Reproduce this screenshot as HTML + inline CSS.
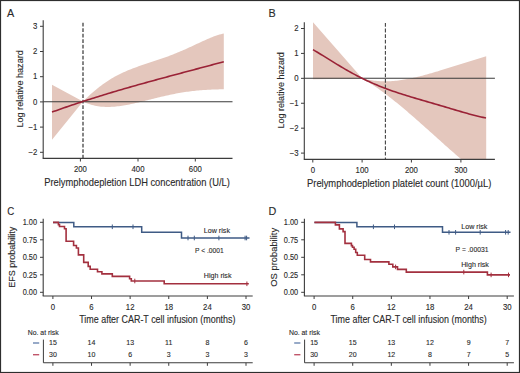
<!DOCTYPE html>
<html><head><meta charset="utf-8"><style>
html,body{margin:0;padding:0;background:#fff;}
svg{display:block;}
text{font-family:"Liberation Sans", sans-serif;stroke:#2a2a2a;stroke-width:0.12px;}
</style></head><body>
<svg width="520" height="373" viewBox="0 0 520 373">
<rect width="520" height="373" fill="#fff"/>
<rect x="0.5" y="0.5" width="519" height="372" fill="none" stroke="#2e2e2e" stroke-width="1.2"/>
<text x="7.0" y="16.9" font-size="10.8" fill="#2a2a2a">A</text>
<text x="268.6" y="16.9" font-size="10.8" fill="#2a2a2a">B</text>
<text transform="translate(7.3,215) scale(0.9000,1)" font-size="10.8" fill="#2a2a2a">C</text>
<text x="268.6" y="214.8" font-size="10.8" fill="#2a2a2a">D</text>
<path d="M52,84.8 L83.00,101.60 L84.50,100.08 L86.00,98.60 L87.50,97.14 L89.00,95.73 L90.50,94.34 L92.00,92.99 L93.50,91.68 L95.00,90.40 L96.50,89.16 L98.00,87.95 L99.50,86.78 L101.00,85.64 L102.50,84.53 L104.00,83.46 L105.50,82.42 L107.00,81.42 L108.50,80.45 L110.00,79.51 L111.50,78.60 L113.00,77.72 L114.50,76.87 L116.00,76.04 L117.50,75.25 L119.00,74.48 L120.50,73.73 L122.00,73.01 L123.50,72.32 L125.00,71.64 L126.50,70.99 L128.00,70.35 L129.50,69.73 L131.00,69.13 L132.50,68.55 L134.00,67.98 L135.50,67.42 L137.00,66.88 L138.50,66.34 L140.00,65.82 L141.50,65.30 L143.00,64.79 L144.50,64.29 L146.00,63.79 L147.50,63.30 L149.00,62.80 L150.50,62.31 L152.00,61.82 L153.50,61.33 L155.00,60.83 L156.50,60.33 L158.00,59.83 L159.50,59.32 L161.00,58.81 L162.50,58.29 L164.00,57.76 L165.50,57.23 L167.00,56.68 L168.50,56.13 L170.00,55.57 L171.50,55.00 L173.00,54.42 L174.50,53.83 L176.00,53.22 L177.50,52.61 L179.00,51.99 L180.50,51.36 L182.00,50.71 L183.50,50.06 L185.00,49.40 L186.50,48.73 L188.00,48.05 L189.50,47.36 L191.00,46.67 L192.50,45.98 L194.00,45.28 L195.50,44.57 L197.00,43.87 L198.50,43.17 L200.00,42.47 L201.50,41.77 L203.00,41.08 L204.50,40.40 L206.00,39.72 L207.50,39.06 L209.00,38.42 L210.50,37.80 L212.00,37.19 L213.50,36.62 L215.00,36.07 L216.50,35.55 L218.00,35.06 L219.50,34.62 L221.00,34.22 L222.50,33.87 L223.80,33.60 L223.80,89.30 L222.50,89.32 L221.00,89.34 L219.50,89.37 L218.00,89.40 L216.50,89.44 L215.00,89.48 L213.50,89.53 L212.00,89.59 L210.50,89.65 L209.00,89.72 L207.50,89.80 L206.00,89.89 L204.50,89.98 L203.00,90.09 L201.50,90.20 L200.00,90.32 L198.50,90.46 L197.00,90.60 L195.50,90.75 L194.00,90.91 L192.50,91.08 L191.00,91.26 L189.50,91.45 L188.00,91.65 L186.50,91.86 L185.00,92.08 L183.50,92.32 L182.00,92.56 L180.50,92.81 L179.00,93.07 L177.50,93.34 L176.00,93.62 L174.50,93.90 L173.00,94.20 L171.50,94.51 L170.00,94.82 L168.50,95.14 L167.00,95.47 L165.50,95.80 L164.00,96.14 L162.50,96.49 L161.00,96.85 L159.50,97.20 L158.00,97.57 L156.50,97.93 L155.00,98.30 L153.50,98.68 L152.00,99.05 L150.50,99.43 L149.00,99.81 L147.50,100.18 L146.00,100.56 L144.50,100.94 L143.00,101.31 L141.50,101.68 L140.00,102.04 L138.50,102.40 L137.00,102.76 L135.50,103.11 L134.00,103.45 L132.50,103.78 L131.00,104.10 L129.50,104.41 L128.00,104.71 L126.50,105.00 L125.00,105.27 L123.50,105.52 L122.00,105.76 L120.50,105.98 L119.00,106.19 L117.50,106.37 L116.00,106.53 L114.50,106.67 L113.00,106.78 L111.50,106.87 L110.00,106.93 L108.50,106.96 L107.00,106.96 L105.50,106.93 L104.00,106.87 L102.50,106.77 L101.00,106.64 L99.50,106.47 L98.00,106.26 L96.50,106.01 L95.00,105.71 L93.50,105.37 L92.00,104.99 L90.50,104.55 L89.00,104.07 L87.50,103.53 L86.00,102.94 L84.50,102.30 L83.00,101.60 L52,139.7 Z" fill="#e4c7bd"/>
<line x1="43.2" y1="101.7" x2="232.5" y2="101.7" stroke="#3a3a3a" stroke-width="1.1"/>
<line x1="83.0" y1="22.8" x2="83.0" y2="158.4" stroke="#444" stroke-width="1.3" stroke-dasharray="3.7,1.8"/>
<path d="M52.00,112.10 L54.00,111.37 L56.00,110.65 L58.00,109.94 L60.00,109.23 L62.00,108.52 L64.00,107.82 L66.00,107.13 L68.00,106.44 L70.00,105.75 L72.00,105.07 L74.00,104.40 L76.00,103.73 L78.00,103.06 L80.00,102.40 L82.00,101.74 L84.00,101.09 L86.00,100.44 L88.00,99.80 L90.00,99.16 L92.00,98.52 L94.00,97.89 L96.00,97.26 L98.00,96.64 L100.00,96.02 L102.00,95.40 L104.00,94.79 L106.00,94.18 L108.00,93.58 L110.00,92.97 L112.00,92.37 L114.00,91.78 L116.00,91.19 L118.00,90.60 L120.00,90.01 L122.00,89.43 L124.00,88.84 L126.00,88.27 L128.00,87.69 L130.00,87.12 L132.00,86.55 L134.00,85.98 L136.00,85.41 L138.00,84.85 L140.00,84.29 L142.00,83.73 L144.00,83.17 L146.00,82.62 L148.00,82.06 L150.00,81.51 L152.00,80.96 L154.00,80.41 L156.00,79.87 L158.00,79.32 L160.00,78.78 L162.00,78.23 L164.00,77.69 L166.00,77.15 L168.00,76.61 L170.00,76.08 L172.00,75.54 L174.00,75.00 L176.00,74.47 L178.00,73.93 L180.00,73.40 L182.00,72.86 L184.00,72.33 L186.00,71.80 L188.00,71.27 L190.00,70.73 L192.00,70.20 L194.00,69.67 L196.00,69.14 L198.00,68.61 L200.00,68.07 L202.00,67.54 L204.00,67.01 L206.00,66.48 L208.00,65.94 L210.00,65.41 L212.00,64.87 L214.00,64.34 L216.00,63.80 L218.00,63.26 L220.00,62.73 L222.00,62.19 L223.80,61.70" fill="none" stroke="#9a2236" stroke-width="1.6"/>
<line x1="43.2" y1="20.3" x2="43.2" y2="158.4" stroke="#3c3c3c" stroke-width="1.1"/>
<line x1="42.7" y1="158.4" x2="232.5" y2="158.4" stroke="#3c3c3c" stroke-width="1.1"/>
<line x1="40" y1="26.3" x2="43.2" y2="26.3" stroke="#3c3c3c" stroke-width="1.0"/>
<text transform="translate(37.3,29.0) scale(0.9500,1)" font-size="8.2" text-anchor="end" fill="#2a2a2a">3</text>
<line x1="40" y1="51.5" x2="43.2" y2="51.5" stroke="#3c3c3c" stroke-width="1.0"/>
<text transform="translate(37.3,54.2) scale(0.9500,1)" font-size="8.2" text-anchor="end" fill="#2a2a2a">2</text>
<line x1="40" y1="76.7" x2="43.2" y2="76.7" stroke="#3c3c3c" stroke-width="1.0"/>
<text transform="translate(37.3,79.4) scale(0.9500,1)" font-size="8.2" text-anchor="end" fill="#2a2a2a">1</text>
<line x1="40" y1="101.89999999999999" x2="43.2" y2="101.89999999999999" stroke="#3c3c3c" stroke-width="1.0"/>
<text transform="translate(37.3,104.6) scale(0.9500,1)" font-size="8.2" text-anchor="end" fill="#2a2a2a">0</text>
<line x1="40" y1="127.1" x2="43.2" y2="127.1" stroke="#3c3c3c" stroke-width="1.0"/>
<text transform="translate(37.3,129.79999999999998) scale(0.9500,1)" font-size="8.2" text-anchor="end" fill="#2a2a2a">−1</text>
<line x1="40" y1="152.3" x2="43.2" y2="152.3" stroke="#3c3c3c" stroke-width="1.0"/>
<text transform="translate(37.3,155.0) scale(0.9500,1)" font-size="8.2" text-anchor="end" fill="#2a2a2a">−2</text>
<line x1="80.4" y1="158.4" x2="80.4" y2="161.5" stroke="#3c3c3c" stroke-width="1.0"/>
<text transform="translate(80.4,171.8) scale(0.9500,1)" font-size="8.2" text-anchor="middle" fill="#2a2a2a">200</text>
<line x1="138" y1="158.4" x2="138" y2="161.5" stroke="#3c3c3c" stroke-width="1.0"/>
<text transform="translate(138,171.8) scale(0.9500,1)" font-size="8.2" text-anchor="middle" fill="#2a2a2a">400</text>
<line x1="195.3" y1="158.4" x2="195.3" y2="161.5" stroke="#3c3c3c" stroke-width="1.0"/>
<text transform="translate(195.3,171.8) scale(0.9500,1)" font-size="8.2" text-anchor="middle" fill="#2a2a2a">600</text>
<text transform="translate(44.2,185.6) scale(0.9347,1)" font-size="10.0" fill="#2a2a2a">Prelymphodepletion LDH concentration (U/L)</text>
<text transform="translate(23.2,88.9) rotate(-90) scale(0.9204,1)" font-size="9.9" text-anchor="middle" fill="#2a2a2a">Log relative hazard</text>
<path d="M313,22.2 L362.3,78.4 L362.30,78.30 L363.80,78.70 L365.30,79.07 L366.80,79.41 L368.30,79.72 L369.80,80.00 L371.30,80.25 L372.80,80.47 L374.30,80.67 L375.80,80.84 L377.30,80.98 L378.80,81.09 L380.30,81.18 L381.80,81.24 L383.30,81.28 L384.80,81.30 L386.30,81.29 L387.80,81.26 L389.30,81.21 L390.80,81.13 L392.30,81.04 L393.80,80.92 L395.30,80.79 L396.80,80.64 L398.30,80.46 L399.80,80.27 L401.30,80.07 L402.80,79.84 L404.30,79.60 L405.80,79.35 L407.30,79.07 L408.80,78.79 L410.30,78.49 L411.80,78.18 L413.30,77.85 L414.80,77.52 L416.30,77.17 L417.80,76.81 L419.30,76.44 L420.80,76.06 L422.30,75.67 L423.80,75.27 L425.30,74.87 L426.80,74.46 L428.30,74.04 L429.80,73.61 L431.30,73.18 L432.80,72.74 L434.30,72.30 L435.80,71.86 L437.30,71.41 L438.80,70.96 L440.00,70.60 L486.20,56.20 L486.2,159.4 L461.40,159.40 L461.30,159.31 L459.80,158.03 L458.30,156.74 L456.80,155.45 L455.30,154.14 L453.80,152.84 L452.30,151.52 L450.80,150.20 L449.30,148.88 L447.80,147.55 L446.30,146.22 L444.80,144.88 L443.30,143.54 L441.80,142.20 L440.30,140.86 L438.80,139.51 L437.30,138.17 L435.80,136.82 L434.30,135.47 L432.80,134.12 L431.30,132.77 L429.80,131.43 L428.30,130.08 L426.80,128.74 L425.30,127.40 L423.80,126.06 L422.30,124.72 L420.80,123.39 L419.30,122.06 L417.80,120.73 L416.30,119.41 L414.80,118.09 L413.30,116.78 L411.80,115.48 L410.30,114.18 L408.80,112.89 L407.30,111.61 L405.80,110.33 L404.30,109.06 L402.80,107.80 L401.30,106.55 L399.80,105.31 L398.30,104.07 L396.80,102.85 L395.30,101.64 L393.80,100.44 L392.30,99.25 L390.80,98.07 L389.30,96.90 L387.80,95.75 L386.30,94.61 L384.80,93.48 L383.30,92.37 L381.80,91.27 L380.30,90.19 L378.80,89.12 L377.30,88.07 L375.80,87.03 L374.30,86.01 L372.80,85.01 L371.30,84.03 L369.80,83.06 L368.30,82.11 L366.80,81.18 L365.30,80.26 L363.80,79.37 L362.30,78.50 L313,79.3 Z" fill="#e4c7bd"/>
<line x1="304.3" y1="78.3" x2="494.9" y2="78.3" stroke="#3a3a3a" stroke-width="1.1"/>
<line x1="385.4" y1="23.0" x2="385.4" y2="159.4" stroke="#444" stroke-width="1.1" stroke-dasharray="3.8,1.8"/>
<path d="M313.00,49.66 L315.00,50.83 L317.00,52.02 L319.00,53.23 L321.00,54.46 L323.00,55.69 L325.00,56.93 L327.00,58.17 L329.00,59.41 L331.00,60.65 L333.00,61.89 L335.00,63.11 L337.00,64.33 L339.00,65.54 L341.00,66.74 L343.00,67.92 L345.00,69.09 L347.00,70.24 L349.00,71.38 L351.00,72.49 L353.00,73.59 L355.00,74.66 L357.00,75.72 L359.00,76.75 L361.00,77.76 L363.00,78.76 L365.00,79.72 L367.00,80.67 L369.00,81.60 L371.00,82.50 L373.00,83.38 L375.00,84.25 L377.00,85.09 L379.00,85.91 L381.00,86.71 L383.00,87.50 L385.00,88.26 L387.00,89.01 L389.00,89.74 L391.00,90.46 L393.00,91.16 L395.00,91.84 L397.00,92.52 L399.00,93.18 L401.00,93.82 L403.00,94.46 L405.00,95.09 L407.00,95.71 L409.00,96.33 L411.00,96.93 L413.00,97.53 L415.00,98.13 L417.00,98.72 L419.00,99.30 L421.00,99.89 L423.00,100.47 L425.00,101.05 L427.00,101.63 L429.00,102.21 L431.00,102.79 L433.00,103.37 L435.00,103.96 L437.00,104.54 L439.00,105.13 L441.00,105.71 L443.00,106.30 L445.00,106.89 L447.00,107.48 L449.00,108.08 L451.00,108.67 L453.00,109.26 L455.00,109.86 L457.00,110.45 L459.00,111.04 L461.00,111.62 L463.00,112.20 L465.00,112.78 L467.00,113.34 L469.00,113.90 L471.00,114.45 L473.00,114.98 L475.00,115.50 L477.00,116.00 L479.00,116.48 L481.00,116.94 L483.00,117.37 L485.00,117.77 L486.00,117.96" fill="none" stroke="#9a2236" stroke-width="1.6"/>
<line x1="304.3" y1="22.2" x2="304.3" y2="159.4" stroke="#3c3c3c" stroke-width="1.1"/>
<line x1="303.8" y1="159.4" x2="494.9" y2="159.4" stroke="#3c3c3c" stroke-width="1.1"/>
<line x1="301" y1="28.5" x2="304.3" y2="28.5" stroke="#3c3c3c" stroke-width="1.0"/>
<text transform="translate(298.5,31.2) scale(0.9500,1)" font-size="8.2" text-anchor="end" fill="#2a2a2a">2</text>
<line x1="301" y1="53.42" x2="304.3" y2="53.42" stroke="#3c3c3c" stroke-width="1.0"/>
<text transform="translate(298.5,56.120000000000005) scale(0.9500,1)" font-size="8.2" text-anchor="end" fill="#2a2a2a">1</text>
<line x1="301" y1="78.34" x2="304.3" y2="78.34" stroke="#3c3c3c" stroke-width="1.0"/>
<text transform="translate(298.5,81.04) scale(0.9500,1)" font-size="8.2" text-anchor="end" fill="#2a2a2a">0</text>
<line x1="301" y1="103.26" x2="304.3" y2="103.26" stroke="#3c3c3c" stroke-width="1.0"/>
<text transform="translate(298.5,105.96000000000001) scale(0.9500,1)" font-size="8.2" text-anchor="end" fill="#2a2a2a">−1</text>
<line x1="301" y1="128.18" x2="304.3" y2="128.18" stroke="#3c3c3c" stroke-width="1.0"/>
<text transform="translate(298.5,130.88) scale(0.9500,1)" font-size="8.2" text-anchor="end" fill="#2a2a2a">−2</text>
<line x1="301" y1="153.10000000000002" x2="304.3" y2="153.10000000000002" stroke="#3c3c3c" stroke-width="1.0"/>
<text transform="translate(298.5,155.8) scale(0.9500,1)" font-size="8.2" text-anchor="end" fill="#2a2a2a">−3</text>
<line x1="312.8" y1="159.4" x2="312.8" y2="162.5" stroke="#3c3c3c" stroke-width="1.0"/>
<text transform="translate(312.8,172.6) scale(0.9500,1)" font-size="8.2" text-anchor="middle" fill="#2a2a2a">0</text>
<line x1="362.1" y1="159.4" x2="362.1" y2="162.5" stroke="#3c3c3c" stroke-width="1.0"/>
<text transform="translate(362.1,172.6) scale(0.9500,1)" font-size="8.2" text-anchor="middle" fill="#2a2a2a">100</text>
<line x1="411.4" y1="159.4" x2="411.4" y2="162.5" stroke="#3c3c3c" stroke-width="1.0"/>
<text transform="translate(411.4,172.6) scale(0.9500,1)" font-size="8.2" text-anchor="middle" fill="#2a2a2a">200</text>
<line x1="460.9" y1="159.4" x2="460.9" y2="162.5" stroke="#3c3c3c" stroke-width="1.0"/>
<text transform="translate(460.9,172.6) scale(0.9500,1)" font-size="8.2" text-anchor="middle" fill="#2a2a2a">300</text>
<text transform="translate(307,187.0) scale(0.9397,1)" font-size="10.0" fill="#2a2a2a">Prelymphodepletion platelet count (1000/µL)</text>
<text transform="translate(283.9,90.3) rotate(-90) scale(0.9085,1)" font-size="9.9" text-anchor="middle" fill="#2a2a2a">Log relative hazard</text>
<path d="M53,222.4 H73.8 V226.8 H141.7 V232.2 H181.5 V238 H249.5" fill="none" stroke="#3f5b85" stroke-width="1.5"/>
<path d="M53,222.4 H58.4 V224.6 H59.5 V226.5 H64.5 V228.8 H66.1 V241.2 H73.6 V245.5 H76.4 V248 H78.4 V254.9 H83.7 V262.4 H88.2 V266.4 H90.2 V269.3 H97.5 V271.7 H101.9 V273.9 H112.3 V276.4 H129.6 V278.7 H131.3 V281 H164.2 V283.8 H248.8" fill="none" stroke="#a3303f" stroke-width="1.6"/>
<line x1="112.3" y1="224.5" x2="112.3" y2="229.10000000000002" stroke="#3f5b85" stroke-width="1.0"/>
<line x1="133" y1="224.5" x2="133" y2="229.10000000000002" stroke="#3f5b85" stroke-width="1.0"/>
<line x1="188" y1="235.7" x2="188" y2="240.3" stroke="#3f5b85" stroke-width="1.0"/>
<line x1="194.3" y1="235.7" x2="194.3" y2="240.3" stroke="#3f5b85" stroke-width="1.0"/>
<line x1="218.9" y1="235.7" x2="218.9" y2="240.3" stroke="#3f5b85" stroke-width="1.0"/>
<line x1="245.1" y1="235.7" x2="245.1" y2="240.3" stroke="#3f5b85" stroke-width="1.0"/>
<line x1="246.6" y1="235.7" x2="246.6" y2="240.3" stroke="#3f5b85" stroke-width="1.0"/>
<line x1="134.8" y1="278.7" x2="134.8" y2="283.3" stroke="#a3303f" stroke-width="1.0"/>
<line x1="246.9" y1="281.5" x2="246.9" y2="286.1" stroke="#a3303f" stroke-width="1.0"/>
<line x1="43.2" y1="218.8" x2="43.2" y2="296" stroke="#3c3c3c" stroke-width="1.1"/>
<line x1="42.7" y1="296" x2="252.7" y2="296" stroke="#3c3c3c" stroke-width="1.1"/>
<line x1="40.0" y1="222.3" x2="43.2" y2="222.3" stroke="#3c3c3c" stroke-width="1.0"/>
<text transform="translate(37.0,225.0) scale(0.9000,1)" font-size="8.2" text-anchor="end" fill="#2a2a2a">1.00</text>
<line x1="40.0" y1="239.8" x2="43.2" y2="239.8" stroke="#3c3c3c" stroke-width="1.0"/>
<text transform="translate(37.0,242.5) scale(0.9000,1)" font-size="8.2" text-anchor="end" fill="#2a2a2a">0.75</text>
<line x1="40.0" y1="257.3" x2="43.2" y2="257.3" stroke="#3c3c3c" stroke-width="1.0"/>
<text transform="translate(37.0,260.0) scale(0.9000,1)" font-size="8.2" text-anchor="end" fill="#2a2a2a">0.50</text>
<line x1="40.0" y1="274.8" x2="43.2" y2="274.8" stroke="#3c3c3c" stroke-width="1.0"/>
<text transform="translate(37.0,277.5) scale(0.9000,1)" font-size="8.2" text-anchor="end" fill="#2a2a2a">0.25</text>
<line x1="40.0" y1="292.3" x2="43.2" y2="292.3" stroke="#3c3c3c" stroke-width="1.0"/>
<text transform="translate(37.0,295.0) scale(0.9000,1)" font-size="8.2" text-anchor="end" fill="#2a2a2a">0.00</text>
<line x1="52.9" y1="296" x2="52.9" y2="299" stroke="#3c3c3c" stroke-width="1.0"/>
<text transform="translate(52.9,309.7) scale(0.9500,1)" font-size="8.2" text-anchor="middle" fill="#2a2a2a">0</text>
<line x1="91.52" y1="296" x2="91.52" y2="299" stroke="#3c3c3c" stroke-width="1.0"/>
<text transform="translate(91.52,309.7) scale(0.9500,1)" font-size="8.2" text-anchor="middle" fill="#2a2a2a">6</text>
<line x1="130.14" y1="296" x2="130.14" y2="299" stroke="#3c3c3c" stroke-width="1.0"/>
<text transform="translate(130.14,309.7) scale(0.9500,1)" font-size="8.2" text-anchor="middle" fill="#2a2a2a">12</text>
<line x1="168.76" y1="296" x2="168.76" y2="299" stroke="#3c3c3c" stroke-width="1.0"/>
<text transform="translate(168.76,309.7) scale(0.9500,1)" font-size="8.2" text-anchor="middle" fill="#2a2a2a">18</text>
<line x1="207.38" y1="296" x2="207.38" y2="299" stroke="#3c3c3c" stroke-width="1.0"/>
<text transform="translate(207.38,309.7) scale(0.9500,1)" font-size="8.2" text-anchor="middle" fill="#2a2a2a">24</text>
<line x1="246.0" y1="296" x2="246.0" y2="299" stroke="#3c3c3c" stroke-width="1.0"/>
<text transform="translate(246.0,309.7) scale(0.9500,1)" font-size="8.2" text-anchor="middle" fill="#2a2a2a">30</text>
<text transform="translate(79.2,322.6) scale(0.8765,1)" font-size="10.2" fill="#2a2a2a">Time after CAR-T cell infusion (months)</text>
<text transform="translate(15.3,257.3) rotate(-90) scale(0.9570,1)" font-size="9.4" text-anchor="middle" fill="#2a2a2a">EFS probability</text>
<text transform="translate(203.8,233) scale(0.9043,1)" font-size="7.9" fill="#2a2a2a">Low risk</text>
<text transform="translate(203.8,278.4) scale(0.9014,1)" font-size="7.9" fill="#2a2a2a">High risk</text>
<text transform="translate(195,253) scale(0.8686,1)" font-size="7.7" fill="#2a2a2a">P &lt; .0001</text>
<text transform="translate(27.7,335) scale(0.8974,1)" font-size="7.7" fill="#2a2a2a">No. at risk</text>
<line x1="33" y1="343" x2="39.2" y2="343" stroke="#6a86b0" stroke-width="1.4"/>
<line x1="33" y1="354.7" x2="39.2" y2="354.7" stroke="#c0566a" stroke-width="1.4"/>
<line x1="43.4" y1="339.6" x2="43.4" y2="362.8" stroke="#3c3c3c" stroke-width="1.0"/>
<line x1="43.4" y1="362.8" x2="252.7" y2="362.8" stroke="#3c3c3c" stroke-width="1.1"/>
<line x1="52.9" y1="362.8" x2="52.9" y2="365.8" stroke="#3c3c3c" stroke-width="1.0"/>
<text transform="translate(52.9,345.0) scale(0.9500,1)" font-size="7.4" text-anchor="middle" fill="#2a2a2a">15</text>
<text transform="translate(52.9,357.3) scale(0.9500,1)" font-size="7.4" text-anchor="middle" fill="#2a2a2a">30</text>
<line x1="91.52" y1="362.8" x2="91.52" y2="365.8" stroke="#3c3c3c" stroke-width="1.0"/>
<text transform="translate(91.52,345.0) scale(0.9500,1)" font-size="7.4" text-anchor="middle" fill="#2a2a2a">14</text>
<text transform="translate(91.52,357.3) scale(0.9500,1)" font-size="7.4" text-anchor="middle" fill="#2a2a2a">10</text>
<line x1="130.14" y1="362.8" x2="130.14" y2="365.8" stroke="#3c3c3c" stroke-width="1.0"/>
<text transform="translate(130.14,345.0) scale(0.9500,1)" font-size="7.4" text-anchor="middle" fill="#2a2a2a">13</text>
<text transform="translate(130.14,357.3) scale(0.9500,1)" font-size="7.4" text-anchor="middle" fill="#2a2a2a">6</text>
<line x1="168.76" y1="362.8" x2="168.76" y2="365.8" stroke="#3c3c3c" stroke-width="1.0"/>
<text transform="translate(168.76,345.0) scale(0.9500,1)" font-size="7.4" text-anchor="middle" fill="#2a2a2a">11</text>
<text transform="translate(168.76,357.3) scale(0.9500,1)" font-size="7.4" text-anchor="middle" fill="#2a2a2a">3</text>
<line x1="207.38" y1="362.8" x2="207.38" y2="365.8" stroke="#3c3c3c" stroke-width="1.0"/>
<text transform="translate(207.38,345.0) scale(0.9500,1)" font-size="7.4" text-anchor="middle" fill="#2a2a2a">8</text>
<text transform="translate(207.38,357.3) scale(0.9500,1)" font-size="7.4" text-anchor="middle" fill="#2a2a2a">3</text>
<line x1="246.0" y1="362.8" x2="246.0" y2="365.8" stroke="#3c3c3c" stroke-width="1.0"/>
<text transform="translate(246.0,345.0) scale(0.9500,1)" font-size="7.4" text-anchor="middle" fill="#2a2a2a">6</text>
<text transform="translate(246.0,357.3) scale(0.9500,1)" font-size="7.4" text-anchor="middle" fill="#2a2a2a">3</text>
<path d="M314.4,222.4 H356.9 V226.8 H442.5 V232.3 H510.5" fill="none" stroke="#3f5b85" stroke-width="1.5"/>
<path d="M314.4,222.4 H335.4 V224.9 H339.4 V228.9 H343.1 V231.6 H345 V243.4 H351.4 V245.6 H352.5 V247.2 H354.1 V249.3 H355.7 V252.5 H357.3 V255.2 H364.7 V259.5 H370.5 V261.9 H388.9 V264.2 H392.8 V266.9 H397.5 V269.4 H406.3 V272.1 H487.4 V274.9 H510" fill="none" stroke="#a3303f" stroke-width="1.6"/>
<line x1="373.4" y1="224.5" x2="373.4" y2="229.10000000000002" stroke="#3f5b85" stroke-width="1.0"/>
<line x1="394.5" y1="224.5" x2="394.5" y2="229.10000000000002" stroke="#3f5b85" stroke-width="1.0"/>
<line x1="449" y1="230.0" x2="449" y2="234.60000000000002" stroke="#3f5b85" stroke-width="1.0"/>
<line x1="455.6" y1="230.0" x2="455.6" y2="234.60000000000002" stroke="#3f5b85" stroke-width="1.0"/>
<line x1="480.2" y1="230.0" x2="480.2" y2="234.60000000000002" stroke="#3f5b85" stroke-width="1.0"/>
<line x1="505.6" y1="230.0" x2="505.6" y2="234.60000000000002" stroke="#3f5b85" stroke-width="1.0"/>
<line x1="508.2" y1="230.0" x2="508.2" y2="234.60000000000002" stroke="#3f5b85" stroke-width="1.0"/>
<line x1="395.6" y1="264.59999999999997" x2="395.6" y2="269.2" stroke="#a3303f" stroke-width="1.0"/>
<line x1="463.8" y1="269.8" x2="463.8" y2="274.40000000000003" stroke="#a3303f" stroke-width="1.0"/>
<line x1="491.1" y1="272.59999999999997" x2="491.1" y2="277.2" stroke="#a3303f" stroke-width="1.0"/>
<line x1="508.5" y1="272.59999999999997" x2="508.5" y2="277.2" stroke="#a3303f" stroke-width="1.0"/>
<line x1="304.4" y1="218.8" x2="304.4" y2="296" stroke="#3c3c3c" stroke-width="1.1"/>
<line x1="303.9" y1="296" x2="513.9" y2="296" stroke="#3c3c3c" stroke-width="1.1"/>
<line x1="301.2" y1="222.3" x2="304.4" y2="222.3" stroke="#3c3c3c" stroke-width="1.0"/>
<text transform="translate(298.2,225.0) scale(0.9000,1)" font-size="8.2" text-anchor="end" fill="#2a2a2a">1.00</text>
<line x1="301.2" y1="239.8" x2="304.4" y2="239.8" stroke="#3c3c3c" stroke-width="1.0"/>
<text transform="translate(298.2,242.5) scale(0.9000,1)" font-size="8.2" text-anchor="end" fill="#2a2a2a">0.75</text>
<line x1="301.2" y1="257.3" x2="304.4" y2="257.3" stroke="#3c3c3c" stroke-width="1.0"/>
<text transform="translate(298.2,260.0) scale(0.9000,1)" font-size="8.2" text-anchor="end" fill="#2a2a2a">0.50</text>
<line x1="301.2" y1="274.8" x2="304.4" y2="274.8" stroke="#3c3c3c" stroke-width="1.0"/>
<text transform="translate(298.2,277.5) scale(0.9000,1)" font-size="8.2" text-anchor="end" fill="#2a2a2a">0.25</text>
<line x1="301.2" y1="292.3" x2="304.4" y2="292.3" stroke="#3c3c3c" stroke-width="1.0"/>
<text transform="translate(298.2,295.0) scale(0.9000,1)" font-size="8.2" text-anchor="end" fill="#2a2a2a">0.00</text>
<line x1="314.09999999999997" y1="296" x2="314.09999999999997" y2="299" stroke="#3c3c3c" stroke-width="1.0"/>
<text transform="translate(314.09999999999997,309.7) scale(0.9500,1)" font-size="8.2" text-anchor="middle" fill="#2a2a2a">0</text>
<line x1="352.71999999999997" y1="296" x2="352.71999999999997" y2="299" stroke="#3c3c3c" stroke-width="1.0"/>
<text transform="translate(352.71999999999997,309.7) scale(0.9500,1)" font-size="8.2" text-anchor="middle" fill="#2a2a2a">6</text>
<line x1="391.34" y1="296" x2="391.34" y2="299" stroke="#3c3c3c" stroke-width="1.0"/>
<text transform="translate(391.34,309.7) scale(0.9500,1)" font-size="8.2" text-anchor="middle" fill="#2a2a2a">12</text>
<line x1="429.96" y1="296" x2="429.96" y2="299" stroke="#3c3c3c" stroke-width="1.0"/>
<text transform="translate(429.96,309.7) scale(0.9500,1)" font-size="8.2" text-anchor="middle" fill="#2a2a2a">18</text>
<line x1="468.58" y1="296" x2="468.58" y2="299" stroke="#3c3c3c" stroke-width="1.0"/>
<text transform="translate(468.58,309.7) scale(0.9500,1)" font-size="8.2" text-anchor="middle" fill="#2a2a2a">24</text>
<line x1="507.2" y1="296" x2="507.2" y2="299" stroke="#3c3c3c" stroke-width="1.0"/>
<text transform="translate(507.2,309.7) scale(0.9500,1)" font-size="8.2" text-anchor="middle" fill="#2a2a2a">30</text>
<text transform="translate(330.5,322.6) scale(0.8759,1)" font-size="10.2" fill="#2a2a2a">Time after CAR-T cell infusion (months)</text>
<text transform="translate(276.5,257.3) rotate(-90) scale(0.9993,1)" font-size="9.4" text-anchor="middle" fill="#2a2a2a">OS probability</text>
<text transform="translate(461.2,229.2) scale(0.9043,1)" font-size="7.9" fill="#2a2a2a">Low risk</text>
<text transform="translate(461.2,266.59999999999997) scale(0.9014,1)" font-size="7.9" fill="#2a2a2a">High risk</text>
<text transform="translate(455.6,252.2) scale(0.8815,1)" font-size="7.7" fill="#2a2a2a">P = .00031</text>
<text transform="translate(288.9,335) scale(0.8974,1)" font-size="7.7" fill="#2a2a2a">No. at risk</text>
<line x1="294.2" y1="343" x2="300.4" y2="343" stroke="#6a86b0" stroke-width="1.4"/>
<line x1="294.2" y1="354.7" x2="300.4" y2="354.7" stroke="#c0566a" stroke-width="1.4"/>
<line x1="304.59999999999997" y1="339.6" x2="304.59999999999997" y2="362.8" stroke="#3c3c3c" stroke-width="1.0"/>
<line x1="304.59999999999997" y1="362.8" x2="513.9" y2="362.8" stroke="#3c3c3c" stroke-width="1.1"/>
<line x1="314.09999999999997" y1="362.8" x2="314.09999999999997" y2="365.8" stroke="#3c3c3c" stroke-width="1.0"/>
<text transform="translate(314.09999999999997,345.0) scale(0.9500,1)" font-size="7.4" text-anchor="middle" fill="#2a2a2a">15</text>
<text transform="translate(314.09999999999997,357.3) scale(0.9500,1)" font-size="7.4" text-anchor="middle" fill="#2a2a2a">30</text>
<line x1="352.71999999999997" y1="362.8" x2="352.71999999999997" y2="365.8" stroke="#3c3c3c" stroke-width="1.0"/>
<text transform="translate(352.71999999999997,345.0) scale(0.9500,1)" font-size="7.4" text-anchor="middle" fill="#2a2a2a">15</text>
<text transform="translate(352.71999999999997,357.3) scale(0.9500,1)" font-size="7.4" text-anchor="middle" fill="#2a2a2a">20</text>
<line x1="391.34" y1="362.8" x2="391.34" y2="365.8" stroke="#3c3c3c" stroke-width="1.0"/>
<text transform="translate(391.34,345.0) scale(0.9500,1)" font-size="7.4" text-anchor="middle" fill="#2a2a2a">13</text>
<text transform="translate(391.34,357.3) scale(0.9500,1)" font-size="7.4" text-anchor="middle" fill="#2a2a2a">12</text>
<line x1="429.96" y1="362.8" x2="429.96" y2="365.8" stroke="#3c3c3c" stroke-width="1.0"/>
<text transform="translate(429.96,345.0) scale(0.9500,1)" font-size="7.4" text-anchor="middle" fill="#2a2a2a">12</text>
<text transform="translate(429.96,357.3) scale(0.9500,1)" font-size="7.4" text-anchor="middle" fill="#2a2a2a">8</text>
<line x1="468.58" y1="362.8" x2="468.58" y2="365.8" stroke="#3c3c3c" stroke-width="1.0"/>
<text transform="translate(468.58,345.0) scale(0.9500,1)" font-size="7.4" text-anchor="middle" fill="#2a2a2a">9</text>
<text transform="translate(468.58,357.3) scale(0.9500,1)" font-size="7.4" text-anchor="middle" fill="#2a2a2a">7</text>
<line x1="507.2" y1="362.8" x2="507.2" y2="365.8" stroke="#3c3c3c" stroke-width="1.0"/>
<text transform="translate(507.2,345.0) scale(0.9500,1)" font-size="7.4" text-anchor="middle" fill="#2a2a2a">7</text>
<text transform="translate(507.2,357.3) scale(0.9500,1)" font-size="7.4" text-anchor="middle" fill="#2a2a2a">5</text>
</svg>
</body></html>
